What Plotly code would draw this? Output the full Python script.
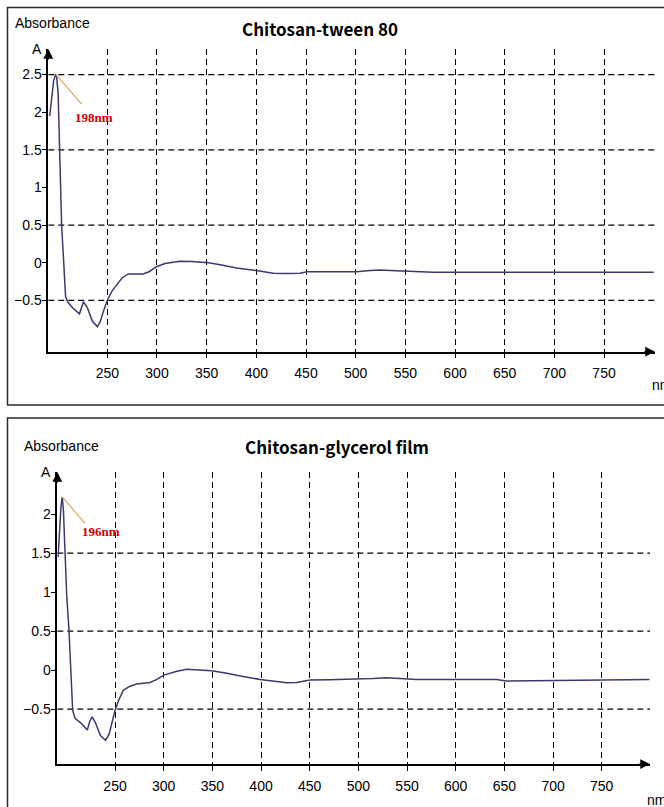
import plotly.graph_objects as go

W, H = 664, 807

# ---------------- data ----------------
wl_tween = [192, 194, 196, 198, 199, 200.5, 202, 204, 205.5, 207, 208, 210, 215, 222, 226,
            230, 235, 240, 243, 246, 250, 255, 260, 265, 271, 280, 286, 292, 300, 308, 313,
            323, 335, 343, 352, 365, 380, 400, 417, 430, 444, 451, 470, 501, 515, 524, 541,
            560, 578, 600, 650, 700, 750, 800]
abs_tween = [1.95, 2.22, 2.42, 2.50, 2.47, 2.25, 1.50, 0.50, 0.15, -0.30, -0.45, -0.52, -0.60,
             -0.68, -0.52, -0.60, -0.78, -0.85, -0.78, -0.65, -0.50, -0.37, -0.28, -0.20,
             -0.15, -0.15, -0.15, -0.12, -0.05, -0.01, 0.00, 0.02, 0.015, 0.005, 0.00,
             -0.03, -0.07, -0.105, -0.14, -0.145, -0.14, -0.12, -0.12, -0.12, -0.105,
             -0.097, -0.106, -0.12, -0.128, -0.128, -0.128, -0.128, -0.128, -0.128]

wl_glyc = [191.5, 193, 194.5, 195.8, 197, 198.6, 200.4, 202.7, 204.5, 206.5, 209, 215, 221.5,
           224, 226.6, 230, 235, 240.3, 244, 247, 250, 254, 258.5, 265, 272, 286, 293, 300,
           307, 313.6, 323.6, 335, 349.3, 365, 380, 399, 415, 426.4, 436.6, 450.3, 470,
           500, 515, 529, 539, 560, 600, 642, 652, 690, 740, 799]
abs_glyc = [1.45, 1.80, 2.10, 2.22, 2.05, 1.52, 0.95, 0.51, 0.04, -0.52, -0.62, -0.68, -0.77,
            -0.66, -0.60, -0.68, -0.84, -0.90, -0.82, -0.68, -0.52, -0.38, -0.26, -0.21,
            -0.18, -0.16, -0.12, -0.065, -0.035, -0.015, 0.009, 0.005, -0.009, -0.04,
            -0.08, -0.12, -0.15, -0.163, -0.16, -0.128, -0.125, -0.12, -0.11, -0.098,
            -0.107, -0.12, -0.12, -0.12, -0.141, -0.135, -0.13, -0.12]

x_ticks = [250, 300, 350, 400, 450, 500, 550, 600, 650, 700, 750]
y_ticks_tween = [2.5, 2, 1.5, 1, 0.5, 0, -0.5]
y_ticks_glyc = [2, 1.5, 1, 0.5, 0, -0.5]
h_grid = [2.5, 1.5, 0.5, -0.5]

titles = ["Chitosan-tween 80", "Chitosan-glycerol film"]
peak_labels = ["198nm", "196nm"]
peak_tween = (198.4, 2.50)
peak_glyc = (195.8, 2.22)

# ---------------- layout helpers (window pixels) ----------------
def px(p):
    return p / W

def py(p):
    return 1 - p / H

NARROW = "Liberation Sans Narrow, Liberation Sans, Arial"
CURVE = "#3a3a6c"

fig = go.Figure()
fig.add_trace(go.Scatter(x=wl_tween, y=abs_tween, mode="lines",
                         line=dict(color=CURVE, width=1.5), xaxis="x", yaxis="y",
                         showlegend=False, hoverinfo="skip"))
fig.add_trace(go.Scatter(x=wl_glyc, y=abs_glyc, mode="lines",
                         line=dict(color=CURVE, width=1.5), xaxis="x2", yaxis="y2",
                         showlegend=False, hoverinfo="skip"))

panels = [
    dict(xd=[px(48.3), px(655)], yd=[py(351.7), py(49)], xr=[190.6, 801.3], yr=[-1.183, 2.84],
         yt=y_ticks_tween),
    dict(xd=[px(57.3), px(650)], yd=[py(764), py(472)], xr=[190.7, 799.6], yr=[-1.205, 2.54],
         yt=y_ticks_glyc),
]

axis_common = dict(showline=True, linecolor="black", linewidth=1.5, ticks="outside",
                   ticklen=5, tickcolor="black", tickwidth=1.3, zeroline=False,
                   tickfont=dict(family=NARROW, size=14, color="black"))

lay = {}
for i, p in enumerate(panels):
    sx = "" if i == 0 else "2"
    lay["xaxis" + sx] = dict(domain=p["xd"], range=p["xr"], anchor="y" + sx,
                             tickvals=x_ticks, showgrid=True, gridcolor="black",
                             gridwidth=1.2, griddash="6px,4px", ticklabelstandoff=3,
                             **axis_common)
    lay["yaxis" + sx] = dict(domain=p["yd"], range=p["yr"], anchor="x" + sx,
                             tickvals=p["yt"], showgrid=False, ticklabelstandoff=-3,
                             **axis_common)

fig.update_layout(width=W, height=H, margin=dict(l=0, r=0, t=0, b=0),
                  paper_bgcolor="white", plot_bgcolor="white", **lay)

shapes = []
annots = []

# frames
shapes.append(dict(type="rect", xref="paper", yref="paper", x0=px(7.5), x1=px(690),
                   y0=py(405), y1=py(7.5), line=dict(color="#2a2a2a", width=1.5)))
shapes.append(dict(type="rect", xref="paper", yref="paper", x0=px(7.5), x1=px(690),
                   y0=py(830), y1=py(418), line=dict(color="#2a2a2a", width=1.5)))

for i, p in enumerate(panels):
    sx = "" if i == 0 else "2"
    xr, yr = p["xr"], p["yr"]
    for g in h_grid:
        if yr[0] < g < yr[1] - 0.1:
            shapes.append(dict(type="line", xref="x" + sx, yref="y" + sx, x0=xr[0], x1=xr[1],
                               y0=g, y1=g, line=dict(color="black", width=1.2, dash="6px,4px"),
                               layer="below"))
    # axis arrowheads
    annots.append(dict(xref="x" + sx, yref="y" + sx, x=xr[0], y=yr[1], ax=0, ay=12, text="",
                       showarrow=True, arrowhead=2, arrowsize=1.3, arrowwidth=1.5,
                       arrowcolor="black"))
    annots.append(dict(xref="x" + sx, yref="y" + sx, x=xr[1], y=yr[0], ax=-12, ay=0, text="",
                       showarrow=True, arrowhead=2, arrowsize=1.3, arrowwidth=1.5,
                       arrowcolor="black"))

# peak pointers
peaks = [peak_tween, peak_glyc]
ends = [(224.2, 2.106), (219.2, 1.88)]
for i, (pk, en) in enumerate(zip(peaks, ends)):
    sx = "" if i == 0 else "2"
    shapes.append(dict(type="line", xref="x" + sx, yref="y" + sx, x0=pk[0], y0=pk[1],
                       x1=en[0], y1=en[1], line=dict(color="#d8a560", width=1.2)))

label_pos = [(72.7, 117.5), (80, 531.7)]
for (lx, ly), t in zip(label_pos, peak_labels):
    annots.append(dict(xref="paper", yref="paper", x=px(lx), y=py(ly), text="<b>%s</b>" % t,
                       showarrow=False, xanchor="left", yanchor="middle",
                       font=dict(family="Liberation Serif, Times New Roman", size=13,
                                 color="#cc0000")))

# titles
title_pos = [(320, 28), (337, 446)]
for (tx, ty), t in zip(title_pos, titles):
    annots.append(dict(xref="paper", yref="paper", x=px(tx), y=py(ty), text="<b>%s</b>" % t,
                       showarrow=False, xanchor="center", yanchor="middle",
                       font=dict(family="Noto Sans CJK SC, Noto Sans", size=17, color="black")))

# axis texts
texts = [("Absorbance", 12.5, 22.7, "left"), ("A", 37, 49, "center"),
         ("nm", 650, 385, "left"),
         ("Absorbance", 21.5, 446, "left"), ("A", 46, 472, "center"),
         ("nm", 645, 800, "left")]
for t, tx, ty, xa in texts:
    annots.append(dict(xref="paper", yref="paper", x=px(tx), y=py(ty), text=t,
                       showarrow=False, xanchor=xa, yanchor="middle",
                       font=dict(family=NARROW, size=14, color="black")))

fig.update_layout(shapes=shapes, annotations=annots)
fig.write_html("out.html", config={"displayModeBar": False},
               post_script="document.body.style.margin='0';document.body.style.overflow='hidden';")
